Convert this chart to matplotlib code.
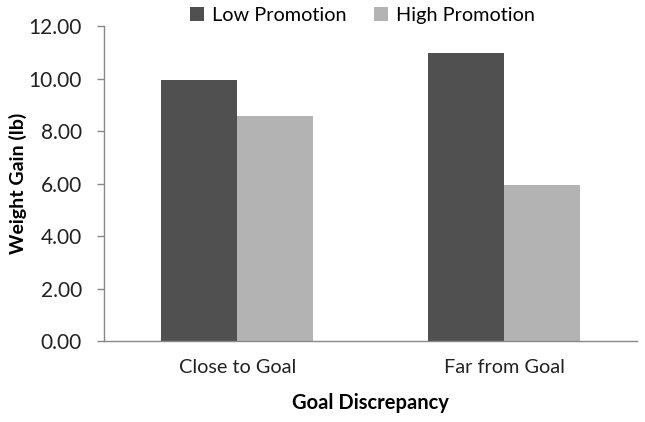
import matplotlib.pyplot as plt
import numpy as np

categories = ['Close to Goal', 'Far from Goal']
series_names = ['Low Promotion', 'High Promotion']
low_promotion = [9.93, 10.97]
high_promotion = [8.56, 5.95]
y_ticks = [0, 2, 4, 6, 8, 10, 12]

plt.rcParams['font.family'] = ['Lato', 'DejaVu Sans']

fig = plt.figure(figsize=(6.45, 4.22), dpi=100)
ax = fig.add_axes([0.1612, 0.1912, 0.8268, 0.7472])

x = np.arange(len(categories))
width = 0.285
ax.bar(x - width / 2, low_promotion, width, color='#505050', label=series_names[0])
ax.bar(x + width / 2, high_promotion, width, color='#b3b3b3', label=series_names[1])

ax.set_xlim(-0.5, 1.5)
ax.set_ylim(0, 12)
ax.set_yticks(y_ticks)
ax.set_yticklabels([f'{v:.2f}' for v in y_ticks], fontsize=15, color='#222222')
ax.set_xticks(x)
ax.set_xticklabels(categories, fontsize=14.3, color='#222222')
ax.tick_params(axis='x', length=0, pad=13)
ax.tick_params(axis='y', length=5, width=1, color='#888888', pad=11)

for side in ['top', 'right']:
    ax.spines[side].set_visible(False)
for side in ['left', 'bottom']:
    ax.spines[side].set_color('#888888')
    ax.spines[side].set_linewidth(1)

ax.set_ylabel('Weight Gain (lb)', fontsize=14, fontweight='bold', labelpad=1)
ax.set_xlabel('Goal Discrepancy', fontsize=14.5, fontweight='bold', labelpad=12)

fig.legend(loc='upper center', bbox_to_anchor=(0.562, 1.025), ncol=2, frameon=False,
           fontsize=14.3, handlelength=0.7, handleheight=0.7, handletextpad=0.4,
           columnspacing=1.4)

fig.savefig('out.png', dpi=100)
